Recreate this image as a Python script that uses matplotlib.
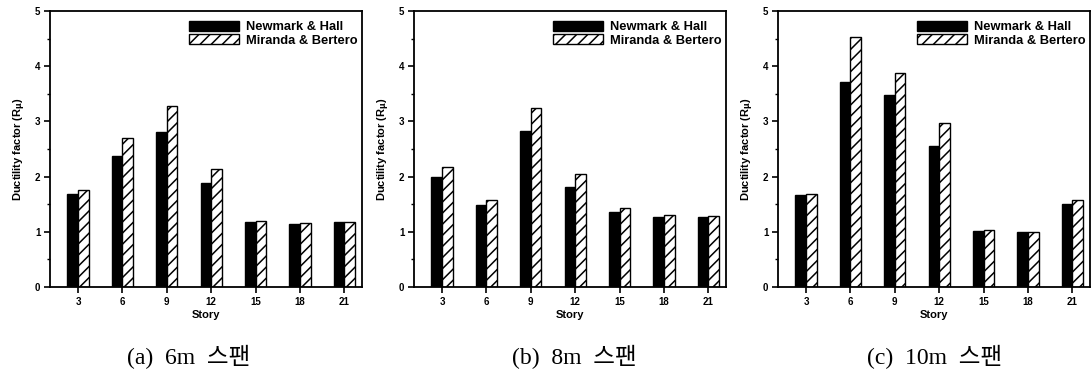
import matplotlib.pyplot as plt
import numpy as np
from matplotlib.patches import Patch
from matplotlib.ticker import MultipleLocator

plt.rcParams['font.family'] = ['Liberation Sans', 'DejaVu Sans']
plt.rcParams['hatch.linewidth'] = 1.1

stories = [3, 6, 9, 12, 15, 18, 21]

nh_6m = [1.68, 2.38, 2.80, 1.88, 1.17, 1.14, 1.17]
mb_6m = [1.76, 2.70, 3.27, 2.13, 1.20, 1.16, 1.17]

nh_8m = [2.00, 1.48, 2.82, 1.82, 1.35, 1.27, 1.27]
mb_8m = [2.18, 1.57, 3.24, 2.05, 1.43, 1.31, 1.29]

nh_10m = [1.66, 3.72, 3.47, 2.55, 1.02, 1.00, 1.50]
mb_10m = [1.69, 4.52, 3.87, 2.97, 1.04, 1.00, 1.57]

captions = ['(a)  6m  스팬', '(b)  8m  스팬', '(c)  10m  스팬']
series = [(nh_6m, mb_6m), (nh_8m, mb_8m), (nh_10m, mb_10m)]

fig = plt.figure(figsize=(10.92, 3.76), dpi=100)
lefts = [50, 414, 778]
cap_x = [189, 574, 935]
w = 0.72

for i, (nh, mb) in enumerate(series):
    ax = fig.add_axes([lefts[i] / 1092, (376 - 287) / 376, 312 / 1092, 276 / 376])
    x = np.array(stories)
    ax.bar(x - w / 2, nh, width=w, color='black', edgecolor='black', linewidth=1)
    ax.bar(x + w / 2, mb, width=w, color='white', edgecolor='black', linewidth=1, hatch='///')
    ax.set_xlim(1.1, 22.2)
    ax.set_ylim(0, 5)
    ax.set_xticks(stories)
    ax.set_yticks(range(6))
    ax.yaxis.set_minor_locator(MultipleLocator(0.5))
    ax.tick_params(axis='both', which='major', direction='out', length=4, width=1.2,
                   labelsize=7, pad=3)
    ax.tick_params(axis='y', which='minor', direction='out', length=2.5, width=1)
    for lab in ax.get_xticklabels() + ax.get_yticklabels():
        lab.set_fontweight('bold')
    for s in ax.spines.values():
        s.set_linewidth(1.3)
    ax.set_xlabel('Story', fontsize=8, fontweight='bold', labelpad=2)
    ax.set_ylabel(r'Ductility factor (R$_\mathbf{\mu}$)', fontsize=8, fontweight='bold', labelpad=5)
    handles = [Patch(facecolor='black', edgecolor='black'),
               Patch(facecolor='white', edgecolor='black', hatch='///')]
    ax.legend(handles, ['Newmark & Hall', 'Miranda & Bertero'], loc='upper left',
              frameon=False, prop={'weight': 'bold', 'size': 9.3}, handlelength=3.9,
              handleheight=0.9, labelspacing=0.02, handletextpad=0.55,
              bbox_to_anchor=(0.445, 0.965), borderaxespad=0, borderpad=0)
    fig.text(cap_x[i] / 1092, 1 - 357 / 376, captions[i], ha='center', va='center',
             fontsize=17, family=['Liberation Serif', 'Noto Sans CJK KR'])

plt.savefig('out.png', dpi=100)
